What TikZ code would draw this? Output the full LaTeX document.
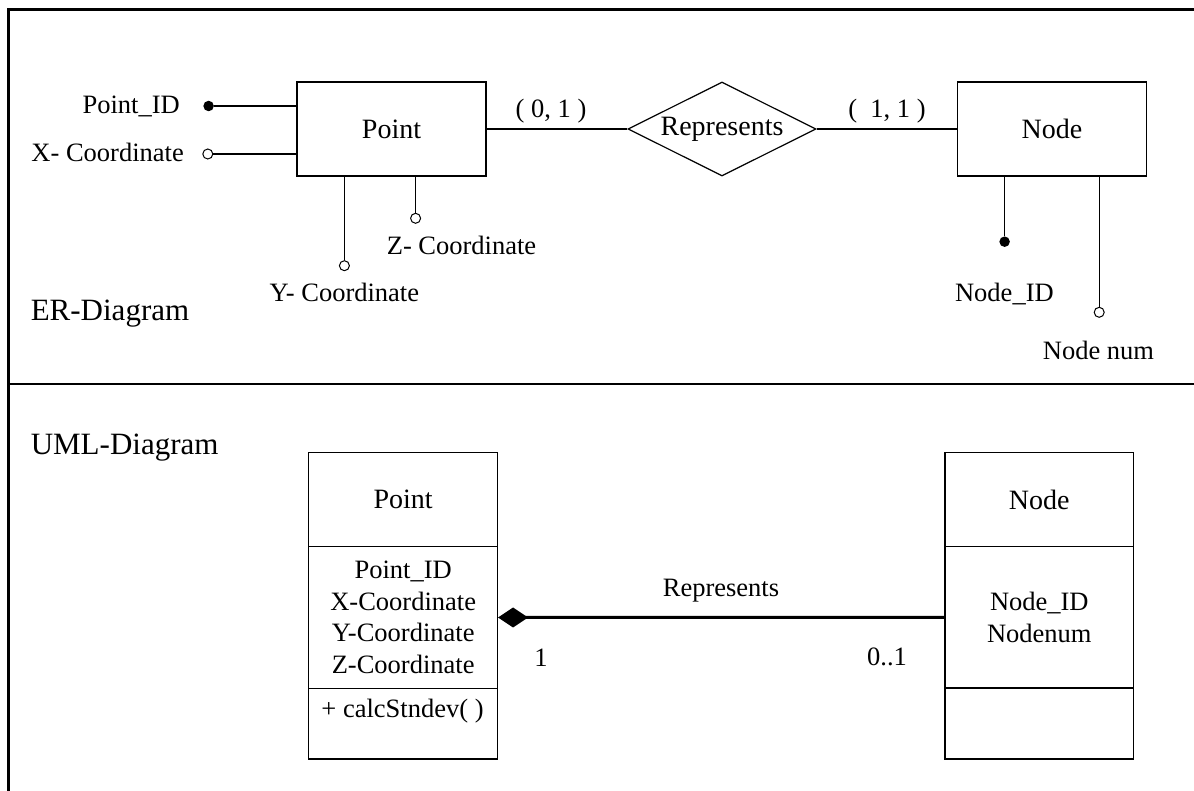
\documentclass[tikz,border=0pt]{standalone}
\usepackage{fontspec}
\setmainfont{Liberation Serif}
\usetikzlibrary{shapes.geometric,arrows.meta}

\newcommand\lblfont{\fontsize{26.5}{31.5}\selectfont}
\newcommand\titlefont{\fontsize{28}{33}\selectfont}
\newcommand\headfont{\fontsize{31}{36}\selectfont}

\begin{document}
\begin{tikzpicture}[x=1pt,y=-1pt,
  conn/.style={line width=1.1pt},
  entity/.style={draw, line width=1.2pt, minimum width=189pt, minimum height=94pt,
                 inner sep=0pt, font=\titlefont},
  relation/.style={diamond, draw, line width=1.2pt, aspect=2, minimum width=188pt,
                   minimum height=94pt, inner sep=0pt, font=\titlefont},
  keydot/.style={circle, fill=black, inner sep=0pt, minimum size=10.5pt},
  attrcirc/.style={circle, draw, fill=white, line width=1pt, inner sep=0pt, minimum size=10pt},
  lbl/.style={inner sep=0pt, font=\lblfont},
  heading/.style={inner sep=0pt, font=\headfont},
  compart/.style={draw, line width=1.2pt, minimum width=188.7pt, inner sep=0pt},
  frameline/.style={line width=3pt, line join=miter},
  assoc/.style={line width=3pt, {Diamond[length=30pt,width=20pt]}-}
]
\useasboundingbox (0,0) rectangle (1194,791);

% outer frame (open on the right and at the bottom) and section divider
\draw[frameline] (8,791) -- (8,9.5) -- (1194,9.5);
\draw[line width=2.5pt] (8,384) -- (1194,384);

% ---------------- ER part ----------------
\node[heading, anchor=base west] (erHead) at (30.6,321) {ER-Diagram};

\node[entity]   (pointER) at (391.5,129) {Point};
\node[relation] (rel)     at (722,129)   {Represents};
\node[entity]   (nodeER)  at (1052,129)  {Node};
\draw[conn] (pointER) -- (rel);
\draw[conn] (rel) -- (nodeER);
\node[lbl, anchor=base] (cardP) at (551,118) {( 0, 1 )};
\node[lbl, anchor=base] (cardN) at (887,118) {(\ \ 1, 1 )};

% attribute markers
\node[keydot]   (pidDot)   at (208.6,106)   {};
\node[attrcirc] (xCirc)    at (207.8,154)   {};
\node[attrcirc] (zCirc)    at (415.6,218.3) {};
\node[attrcirc] (yCirc)    at (344.4,265.7) {};
\node[keydot]   (nidDot)   at (1004.6,241.7) {};
\node[attrcirc] (nnumCirc) at (1099.2,312.3) {};

\draw[conn] (pidDot) -- (pidDot -| pointER.west);
\draw[conn] (xCirc) -- (xCirc -| pointER.west);
\draw[conn] (zCirc) -- (zCirc |- pointER.south);
\draw[conn] (yCirc) -- (yCirc |- pointER.south);
\draw[conn] (nidDot) -- (nidDot |- nodeER.south);
\draw[conn] (nnumCirc) -- (nnumCirc |- nodeER.south);

% attribute names
\node[lbl, anchor=base east] (pidLbl)  at (180,114)      {Point\_ID};
\node[lbl, anchor=base east] (xLbl)    at (184,161.3)    {X- Coordinate};
\node[lbl, anchor=base]      (zLbl)    at (461.5,255)    {Z- Coordinate};
\node[lbl, anchor=base]      (yLbl)    at (344.4,301.7)  {Y- Coordinate};
\node[lbl, anchor=base]      (nidLbl)  at (1004.4,301.7) {Node\_ID};
\node[lbl, anchor=base]      (nnumLbl) at (1098.5,360)   {Node num};

% ---------------- UML part ----------------
\node[heading, anchor=base west] (umlHead) at (30.6,454) {UML-Diagram};

% class Point
\node[compart, minimum height=94.4pt, font=\titlefont] (pointTitle) at (403.15,499.5) {Point};
\node[compart, minimum height=141.6pt, font=\lblfont, align=center] (pointAttrs) at (403.15,617.5)
  {Point\_ID\\X-Coordinate\\Y-Coordinate\\Z-Coordinate};
\node[compart, minimum height=70.7pt] (pointOps) at (403.15,723.65) {};
\node[lbl, anchor=base] (pointOpsTxt) at (402.5,717.5) {+ calcStndev( )};

% class Node
\node[compart, minimum height=94.4pt, font=\titlefont] (nodeTitle) at (1039.3,499.5) {Node};
\node[compart, minimum height=141.3pt, font=\lblfont, align=center] (nodeAttrs) at (1039.3,617.35)
  {Node\_ID\\Nodenum};
\node[compart, minimum height=71pt] (nodeOps) at (1039.3,723.5) {};

% composition
\draw[assoc] (pointAttrs.east) -- (nodeAttrs.west);
\node[lbl, anchor=base] (assocLbl) at (721,596.7) {Represents};
\node[lbl, anchor=base] (multP)    at (541,666)   {1};
\node[lbl, anchor=base] (multN)    at (887,665)   {0..1};
\end{tikzpicture}
\end{document}
